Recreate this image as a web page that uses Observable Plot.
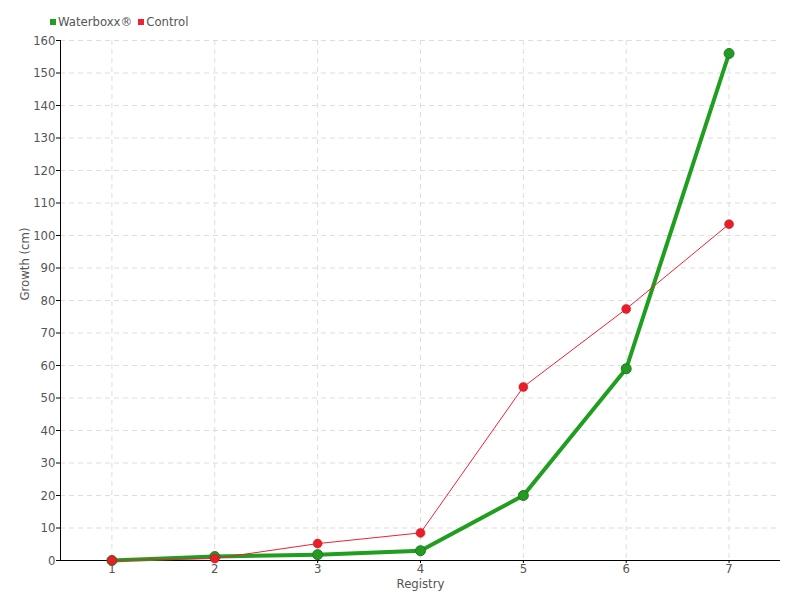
<!DOCTYPE html>
<html>
<head>
<meta charset="utf-8">
<script src="https://cdn.jsdelivr.net/npm/d3@7"></script>
<script src="https://cdn.jsdelivr.net/npm/@observablehq/plot@0.6"></script>
<style>
  body { margin: 0; background: #fff; font-family: "DejaVu Sans Condensed", "DejaVu Sans", sans-serif; font-stretch: condensed; }
  #legend { height: 30px; box-sizing: border-box; padding-left: 50px; padding-top: 14px; font-size: 13px; color: #555; line-height: 16px; }
  #legend span.sw { display: inline-block; width: 6px; height: 6px; margin-right: 2px; vertical-align: 1px; }
  #legend span.item { margin-right: 6px; }
</style>
</head>
<body>
<div id="legend"></div>
<div id="chart"></div>
<script>
const registry = [1, 2, 3, 4, 5, 6, 7];
const waterboxx = [0, 1.2, 1.8, 3, 20, 59, 156];
const control = [0, 0.6, 5.2, 8.5, 53.4, 77.4, 103.5];
const seriesNames = ["Waterboxx®", "Control"];
const seriesColors = ["#1f9e1f", "#ee2233"];
const yTicks = d3.range(0, 161, 10);

const legend = document.getElementById("legend");
seriesNames.forEach((n, i) => {
  const s = document.createElement("span");
  s.className = "item";
  s.innerHTML = `<span class="sw" style="background:${seriesColors[i]}"></span>${n}`;
  legend.appendChild(s);
});

const font = `"DejaVu Sans Condensed", "DejaVu Sans", sans-serif`;
const chart = Plot.plot({
  width: 800,
  height: 570,
  marginTop: 10,
  marginBottom: 40,
  marginLeft: 60,
  marginRight: 20,
  style: { fontFamily: font, fontSize: "13px", fontStretch: "condensed", color: "#555", background: "#fff" },
  x: { domain: [0.5, 7.5] },
  y: { domain: [0, 160] },
  marks: [
    Plot.gridX(registry, { stroke: "#ddd", strokeOpacity: 1, strokeDasharray: "5,4" }),
    Plot.gridY(yTicks, { stroke: "#ddd", strokeOpacity: 1, strokeDasharray: "5,4" }),
    Plot.axisY({ ticks: yTicks, tickSize: 4, tickPadding: 1, label: null, fill: "#555", stroke: "#000" }),
    Plot.axisX({ ticks: registry, tickSize: 3, tickPadding: 0, tickFormat: d => String(d), label: null, fill: "#555", stroke: "#000" }),
    Plot.ruleX([0.5], { stroke: "#000" }),
    Plot.ruleY([0], { stroke: "#000" }),
    Plot.text(["Growth (cm)"], { frameAnchor: "left", dx: -36, rotate: -90, fill: "#555", fontSize: 13 }),
    Plot.text(["Registry"], { frameAnchor: "bottom", dy: 27, fill: "#555", fontSize: 13 }),
    Plot.line(waterboxx, { x: (d, i) => registry[i], y: d => d, stroke: seriesColors[0], strokeWidth: 4 }),
    Plot.line(control, { x: (d, i) => registry[i], y: d => d, stroke: seriesColors[1], strokeWidth: 1 }),
    Plot.dot(waterboxx, { x: (d, i) => registry[i], y: d => d, r: 5, fill: "#249a24", stroke: "#1a7f1a", strokeWidth: 1 }),
    Plot.dot(control, { x: (d, i) => registry[i], y: d => d, r: 4.5, fill: "#e81e2a", stroke: "#c8141e", strokeWidth: 0.5 })
  ]
});
document.getElementById("chart").appendChild(chart);
</script>
</body>
</html>
